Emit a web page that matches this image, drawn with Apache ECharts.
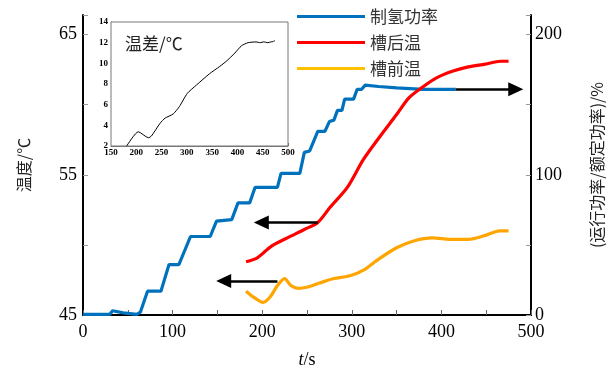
<!DOCTYPE html>
<html><head><meta charset="utf-8">
<script src="https://cdn.jsdelivr.net/npm/echarts@6/dist/echarts.min.js"></script>
<style>html,body{margin:0;padding:0;background:#fff}#c{width:613px;height:376px}</style>
</head><body><div id="c"></div>
<script>
// 制氢功率 (%), right axis
const powerT = [0,30,33,45,60,64,72,87,96,107,120,142,149,166,173,186,192,217,221,242,247,253,262,270,275,280,284,289,292,302,306,311,315,330,350,380,416];
const powerV = [0.5,0.5,3,1.5,0.5,2,17,17,36,36,56,56,67,68,80,80,91,91,101,101,116,117,131,131,138,139,146,146,154,154,161,161,164,163,162,161,161];
// 槽后温 (°C)
const outT = [182,195,210,228,247,262,276,295,313,331,350,364,380,394,413,430,449,466,475];
const outV = [48.8,49.1,49.9,50.5,51.1,51.6,52.7,54.1,56.1,57.7,59.3,60.5,61.3,61.9,62.4,62.7,62.9,63.1,63.1];
// 槽前温 (°C)
const inT = [182,192,201,209,217,225,232,240,251,265,280,298,313,328,350,370,390,410,430,450,465,475];
const inV = [46.7,46.2,45.9,46.3,47.1,47.6,47.1,46.9,47.0,47.3,47.6,47.8,48.2,48.9,49.8,50.3,50.5,50.4,50.4,50.7,51.0,51.0];
// 温差 inset
const diffT = [181,204,224,230,247,257,273,285,301,319,345,365,378,395,408,421,437,445,452,460,466,470,474];
const diffV = [2.0,3.38,2.8,2.97,4.2,4.7,5.1,5.8,7.1,7.9,9.0,9.7,10.2,11.0,11.7,12.0,12.07,12.0,12.08,12.0,12.07,12.1,12.2];
// arrows [t0, v0, t1, v1]
const arrowOut = [262, 51.6, 199, 51.6];
const arrowIn = [217, 47.43, 157, 47.43];
const arrowPow = [416, 161, 483, 161];

const zip = (a, b) => a.map((x, i) => [x, b[i]]);
const serif = 'Liberation Serif, "Noto Sans CJK SC", serif';
const cjk = '"Noto Sans CJK SC", sans-serif';

function arrow(a) {
  return {
    silent: true, animation: false,
    symbol: ['none', 'triangle'], symbolSize: [14, 15],
    lineStyle: { color: '#000', width: 2.6, type: 'solid' },
    label: { show: false },
    data: [[{ coord: [a[0], a[1]] }, { coord: [a[2], a[3]] }]]
  };
}

const chart = echarts.init(document.getElementById('c'), null, { renderer: 'canvas' });
chart.setOption({
  animation: false,
  backgroundColor: '#fff',
  grid: [
    { left: 83, right: 76, top: 15, bottom: 61 },
    { left: 111, top: 22, width: 177, height: 124, show: true, borderColor: '#777', borderWidth: 1, backgroundColor: '#fff', z: 5 }
  ],
  legend: {
    orient: 'vertical', left: 292, top: 3, itemWidth: 68, itemHeight: 3, itemGap: 9, icon: 'rect',
    textStyle: { fontSize: 17, color: '#333', fontFamily: cjk },
    data: ['制氢功率', '槽后温', '槽前温']
  },
  xAxis: [
    {
      type: 'value', gridIndex: 0, min: 0, max: 500, interval: 50,
      name: '{i|t}/s', nameLocation: 'middle', nameGap: 36,
      nameTextStyle: { fontSize: 18, fontFamily: serif, color: '#000', rich: { i: { fontStyle: 'italic', fontSize: 18, fontFamily: serif, color: '#000' } } },
      axisLine: { lineStyle: { color: '#000', width: 2 } },
      axisTick: { inside: true, length: 5, lineStyle: { color: '#666' } },
      axisLabel: { fontSize: 18, fontFamily: serif, color: '#000', margin: 8, formatter: v => (v % 100 === 0 ? v : '') },
      splitLine: { show: false }
    },
    {
      type: 'value', gridIndex: 1, min: 150, max: 500, interval: 50,
      axisLine: { lineStyle: { color: '#777', width: 1 } },
      axisTick: { inside: true, length: 3, lineStyle: { color: '#777' } },
      axisLabel: { fontSize: 9, fontFamily: serif, color: '#000', margin: 2, fontWeight: 'bold' },
      splitLine: { show: false }
    }
  ],
  yAxis: [
    {
      type: 'value', gridIndex: 0, min: 45, max: 66.4, interval: 5,
      name: '温度/℃', nameLocation: 'middle', nameGap: 51, nameRotate: 90,
      nameTextStyle: { fontSize: 16, fontFamily: cjk, color: '#222' },
      axisLine: { lineStyle: { color: '#000', width: 2 } },
      axisTick: { inside: true, length: 5, lineStyle: { color: '#999' } },
      axisLabel: { fontSize: 18, fontFamily: serif, color: '#000', margin: 6, formatter: v => ([45, 55, 65].includes(v) ? v : '') },
      splitLine: { show: false }
    },
    {
      type: 'value', gridIndex: 0, position: 'right', min: 0, max: 214, interval: 50,
      name: '(运行功率/额定功率)/%', nameLocation: 'middle', nameGap: 58, nameRotate: 90,
      nameTextStyle: { fontSize: 16, fontFamily: cjk, color: '#222' },
      axisLine: { lineStyle: { color: '#000', width: 2 } },
      axisTick: { inside: true, length: 5, lineStyle: { color: '#999' } },
      axisLabel: { fontSize: 18, fontFamily: serif, color: '#000', margin: 4, formatter: v => ([0, 100, 200].includes(v) ? v : '') },
      splitLine: { show: false }
    },
    {
      type: 'value', gridIndex: 1, min: 2, max: 14, interval: 2,
      axisLine: { lineStyle: { color: '#777', width: 1 } },
      axisTick: { inside: true, length: 3, lineStyle: { color: '#777' } },
      axisLabel: { fontSize: 9, fontFamily: serif, color: '#000', margin: 3, fontWeight: 'bold' },
      splitLine: { show: false }
    }
  ],
  graphic: [
    { type: 'text', left: 125, top: 35, z: 100, style: { text: '温差/℃', font: '17px "Noto Sans CJK SC"', fill: '#222' } }
  ],
  series: [
    {
      name: '制氢功率', type: 'line', xAxisIndex: 0, yAxisIndex: 1, data: zip(powerT, powerV),
      showSymbol: false, symbol: 'none', lineStyle: { color: '#0072BD', width: 3.2 }, itemStyle: { color: '#0072BD' },
      markLine: arrow(arrowPow), z: 3
    },
    {
      name: '槽后温', type: 'line', xAxisIndex: 0, yAxisIndex: 0, data: zip(outT, outV), smooth: 0.3,
      showSymbol: false, symbol: 'none', lineStyle: { color: '#FF0000', width: 3.2 }, itemStyle: { color: '#FF0000' },
      markLine: arrow(arrowOut), z: 3
    },
    {
      name: '槽前温', type: 'line', xAxisIndex: 0, yAxisIndex: 0, data: zip(inT, inV), smooth: 0.3,
      showSymbol: false, symbol: 'none', lineStyle: { color: '#FFA500', width: 3.2 }, itemStyle: { color: '#FFC000' },
      markLine: arrow(arrowIn), z: 3
    },
    {
      name: '温差', type: 'line', xAxisIndex: 1, yAxisIndex: 2, data: zip(diffT, diffV), smooth: 0.2,
      showSymbol: false, symbol: 'none', lineStyle: { color: '#000', width: 1 }, z: 6
    }
  ]
});
</script>
</body></html>
